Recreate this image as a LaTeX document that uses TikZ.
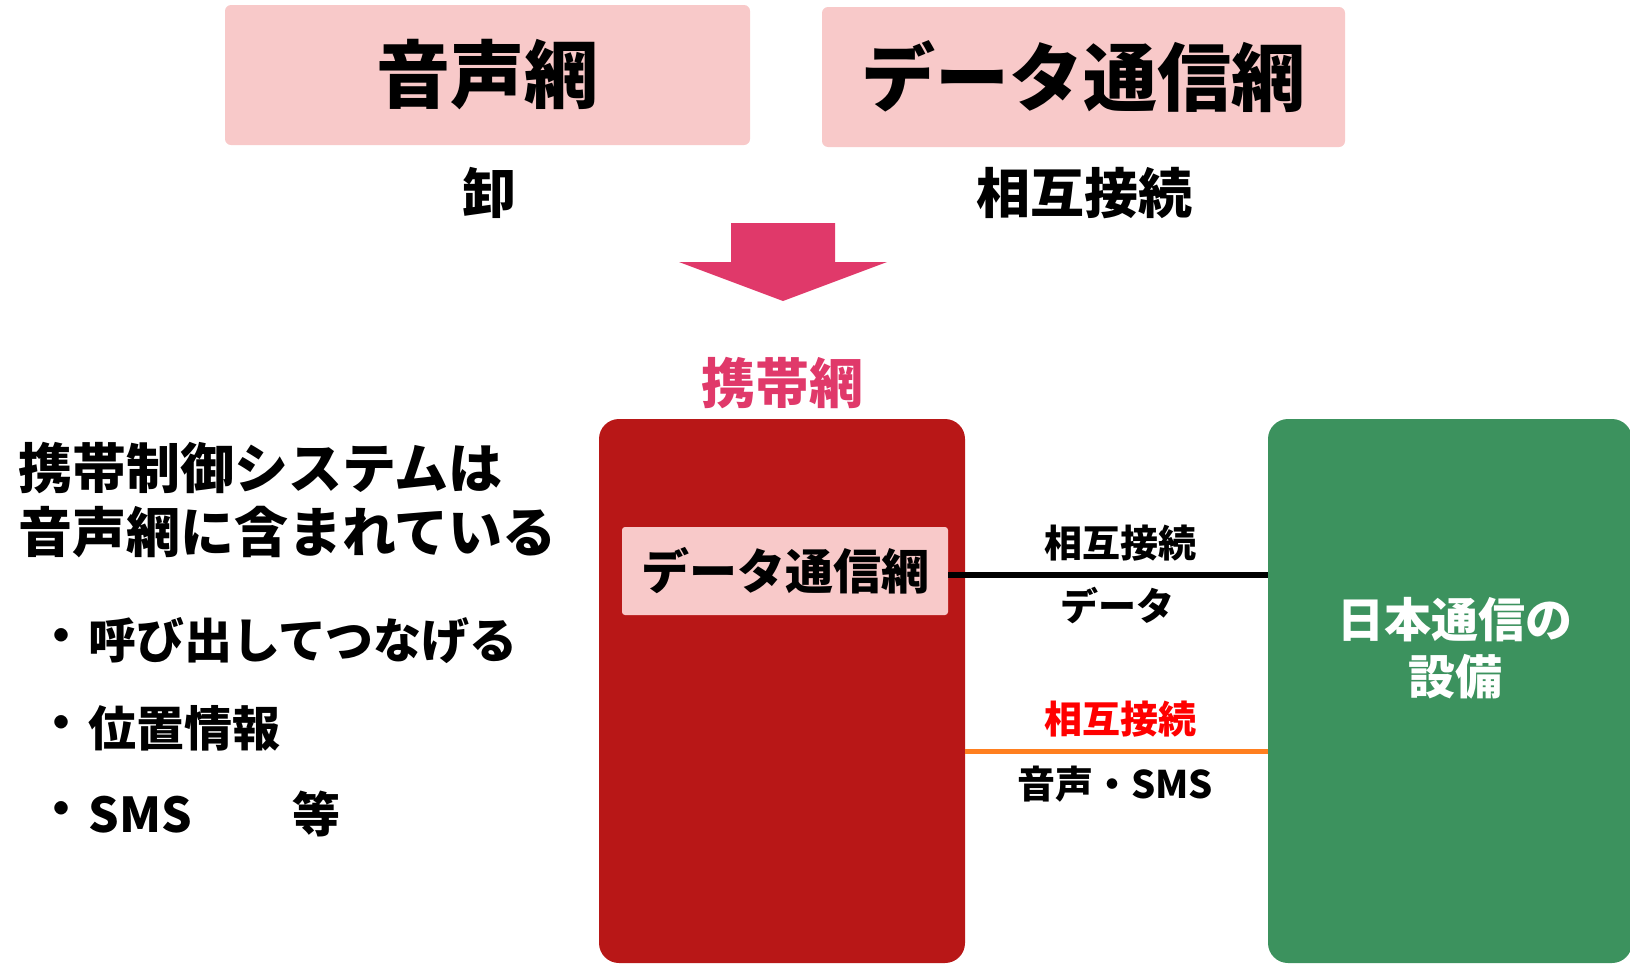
\documentclass[tikz,border=0pt]{standalone}
\usepackage{fontspec}
\setmainfont{Noto Sans CJK JP}
\definecolor{boxpink}{HTML}{F8C9C9}
\definecolor{arrowpink}{HTML}{E0396A}
\definecolor{mred}{HTML}{B81717}
\definecolor{mgreen}{HTML}{3C925E}
\definecolor{orng}{HTML}{FF7F1F}
\newcommand{\fsz}[2]{\fontsize{#1}{#2}\selectfont}
\begin{document}
\begin{tikzpicture}[x=0.5pt,y=-0.5pt,font=\bfseries,
  pinkbox/.style={fill=boxpink,rounded corners=3pt,inner sep=0,align=center},
  bigbox/.style={rounded corners=10pt,inner sep=0},
  txt/.style={inner sep=0,align=center},
  lbl/.style={inner sep=0,font=\bfseries\fsz{19pt}{22pt}},
  bullet/.style={inner sep=0,font=\bfseries\fsz{24pt}{28pt}},
  link/.style={line width=2.6pt}
]
\useasboundingbox (0,0) rectangle (1630,964);
% top boxes
\node[pinkbox,minimum width=262.5pt,minimum height=70pt,font=\bfseries\fsz{37pt}{40pt}] (voice) at (487.5,75) {音声網};
\node[pinkbox,minimum width=261.5pt,minimum height=70pt,font=\bfseries\fsz{37pt}{40pt}] (datanet) at (1083.5,77) {データ通信網};
\node[txt,font=\bfseries\fsz{27pt}{30pt}] (oroshi) at (489,193) {卸};
\node[txt,font=\bfseries\fsz{27pt}{30pt}] (sogo) at (1084,193) {相互接続};
% block arrow
\fill[arrowpink] (731,223) -- (835,223) -- (835,262) -- (887,262) -- (783,301) -- (679,262) -- (731,262) -- cycle;
% mobile network
\node[txt,text=arrowpink,font=\bfseries\fsz{27pt}{30pt}] (keitaimo) at (782,383) {携帯網};
\node[bigbox,fill=mred,minimum width=183pt,minimum height=272pt] (mobile) at (782,691) {};
\node[pinkbox,rounded corners=1.5pt,minimum width=163pt,minimum height=44pt,font=\bfseries\fsz{24pt}{28pt}] (mdata) at (785,571) {データ通信網};
\node[bigbox,fill=mgreen,minimum width=182pt,minimum height=272pt] (jcomm) at (1450,691) {};
\node[txt,text=white,font=\bfseries\fsz{23.5pt}{28.5pt}] (jlabel) at (1455,648) {日本通信の\\設備};
% links
\path (mdata.east) ++(0,4) coordinate (k1);
\draw[link,black] (k1) -- (k1 -| jcomm.west);
\path (mobile.north east) ++(0,333) coordinate (o1);
\draw[link,orng] (o1) -- (o1 -| jcomm.west);
\node[lbl] (l1) at (1120,543) {相互接続};
\node[lbl] (l2) at (1117,606) {データ};
\node[lbl,text=red] (l3) at (1120,719) {相互接続};
\node[lbl] (l4) at (1115,784) {音声・SMS};
% left text
\node[inner sep=0,anchor=west,align=left,font=\bfseries\fsz{27pt}{32pt}] (head) at (18,500) {携帯制御システムは\\音声網に含まれている};
\node[bullet] (d1) at (62,641) {・};
\node[bullet,anchor=west] (b1) at (88,641) {呼び出してつなげる};
\node[bullet] (d2) at (62,728) {・};
\node[bullet,anchor=west] (b2) at (88,728) {位置情報};
\node[bullet] (d3) at (62,814) {・};
\node[bullet,anchor=west] (b3) at (88,814) {\makebox[102pt][l]{SMS}等};
\end{tikzpicture}
\end{document}
